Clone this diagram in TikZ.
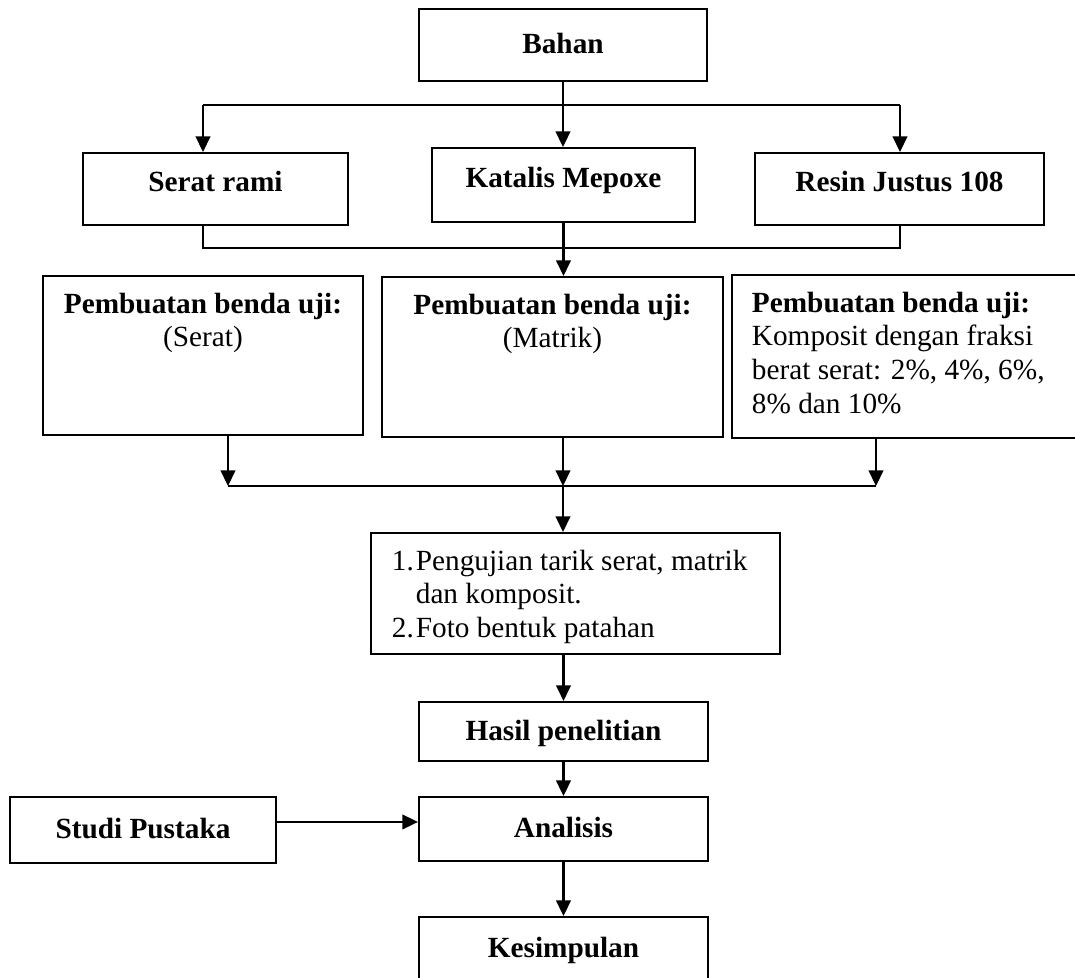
\documentclass[tikz,border=0pt]{standalone}
\usepackage{fontspec}
\setmainfont{Liberation Serif}
\usepackage{tikz}
\usetikzlibrary{arrows.meta}
\newcommand{\isiatas}[4]{\parbox[c][#1][t]{#2}{#3\rule{0pt}{15.2pt}#4}}
\tikzset{
  kotak/.style={draw, font=\fontsize{12}{13.8}\selectfont\bfseries, text height=8pt, text depth=1pt},
  kotakatas/.style={kotak, text depth=5.9pt},
  kotakisi/.style={draw, inner sep=0pt},
  panah/.style={-{Triangle[length=6.4pt, width=6pt]}}
}
\begin{document}
\begin{tikzpicture}[x=0.41pt, y=-0.41pt, line width=0.85pt,
                    font=\fontsize{12}{13.8}\selectfont]
  \useasboundingbox (0,0) rectangle (1075,977);
  % (1) bahan dan tiga komponennya
  \node[kotak, minimum width=118.1pt, minimum height=29.5pt] (bahan) at (563,45) {Bahan};
  \node[kotakatas, minimum width=108.7pt, minimum height=29.5pt] (serat) at (215.5,189) {Serat rami};
  \node[kotakatas, minimum width=107.8pt, minimum height=30.3pt] (katalis) at (563.5,185) {Katalis Mepoxe};
  \node[kotakatas, minimum width=118.5pt, minimum height=29.5pt] (resin) at (899.5,189) {Resin Justus 108};
  \coordinate (b1l) at (203,105); \coordinate (b1r) at (900,105);
  \draw (b1l) -- (b1r);
  \draw[panah] (bahan.south) -- (bahan.south |- katalis.north);
  \draw[panah] (b1l) -- (b1l |- serat.north);
  \draw[panah] (b1r) -- (b1r |- resin.north);
  % (2) pembuatan benda uji
  \node[kotakisi] (ujiserat) at (203,355.5)
    {\isiatas{65.2pt}{131.2pt}{\centering}{\textbf{Pembuatan benda uji:}\\(Serat)}};
  \node[kotakisi] (ujimatrik) at (552.5,357)
    {\isiatas{65.6pt}{139.8pt}{\centering}{\textbf{Pembuatan benda uji:}\\(Matrik)}};
  \node[kotakisi, inner xsep=8.2pt] (ujikomposit) at (911,356.5)
    {\isiatas{66.8pt}{130.4pt}{\raggedright}{\textbf{Pembuatan benda uji:}\\Komposit dengan fraksi\\berat serat: 2\%, 4\%, 6\%,\\8\% dan 10\%}};
  \coordinate (b2l) at (203,248); \coordinate (b2r) at (900,248);
  \draw (b2l |- serat.south) -- (b2l) -- (b2r) -- (b2r |- resin.south);
  \draw[panah] (katalis.south) -- (katalis.south |- ujimatrik.north);
  % (3) pengujian dan hasil
  \node[kotakisi, inner xsep=8.6pt] (uji) at (575.5,593.5)
    {\isiatas{49.6pt}{150.5pt}{\raggedright}{\makebox[9.8pt][l]{1.}Pengujian tarik serat, matrik\\
     \hspace*{9.8pt}dan komposit.\\\makebox[9.8pt][l]{2.}Foto bentuk patahan}};
  \coordinate (b3l) at (228,486); \coordinate (b3m) at (563,486); \coordinate (b3r) at (876,486);
  \draw (b3l) -- (b3r);
  \draw[panah] (b3l |- ujiserat.south) -- (b3l);
  \draw[panah] (b3m |- ujimatrik.south) -- (b3m);
  \draw[panah] (b3r |- ujikomposit.south) -- (b3r);
  \draw[panah] (b3m) -- (b3m |- uji.north);
  \node[kotak, minimum width=118.5pt, minimum height=24.2pt] (hasil) at (563.5,731.5) {Hasil penelitian};
  \node[kotak, minimum width=118.5pt, minimum height=26.2pt] (analisis) at (563.5,829) {Analisis};
  \node[kotak, minimum width=109.1pt, minimum height=27pt] (studi) at (143,830) {Studi Pustaka};
  \node[kotak, minimum width=118.5pt, minimum height=25.8pt] (kesimpulan) at (563.5,948.5) {Kesimpulan};
  \draw[panah] (hasil.north |- uji.south) -- (hasil.north);
  \draw[panah] (hasil) -- (analisis);
  \draw[panah] ([yshift=3.3pt]studi.east) -- ([yshift=3.3pt]studi.east -| analisis.west);
  \draw[panah] (analisis) -- (kesimpulan);
\end{tikzpicture}
\end{document}
